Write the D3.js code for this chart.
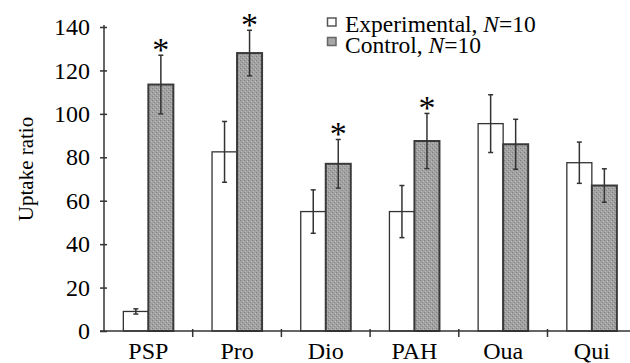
<!DOCTYPE html>
<html>
<head>
<meta charset="utf-8">
<script src="https://cdn.jsdelivr.net/npm/d3@7"></script>
<style>
  body { margin: 0; background: #fff; }
  text { font-family: "Liberation Serif", "DejaVu Serif", serif; fill: #000; }
</style>
</head>
<body>
<div id="display"></div>
<script>
const categories = ['PSP', 'Pro', 'Dio', 'PAH', 'Oua', 'Qui'];
const expMeans = [9, 82.5, 55, 55, 95.5, 77.5];
const expErr = [1.2, 14, 10, 12, 13.3, 9.5];
const ctrlMeans = [113.5, 128, 77, 87.5, 86, 67];
const ctrlErr = [13.5, 10.5, 11.2, 12.7, 11.5, 7.7];
const significant = [true, true, true, true, false, false];
const yTicks = [0, 20, 40, 60, 80, 100, 120, 140];

const width = 630;
const height = 363;
const axisX = 104;
const axisY = 331;

const svg = d3.select('#display').append('svg')
    .attr('width', width)
    .attr('height', height);

// speckled gray fill for control bars
const pat = svg.append('defs').append('pattern')
    .attr('id', 'speckle')
    .attr('width', 4).attr('height', 4)
    .attr('patternUnits', 'userSpaceOnUse');
pat.append('rect').attr('width', 4).attr('height', 4).attr('fill', '#a2a2a2');
pat.append('rect').attr('x', 0).attr('y', 0).attr('width', 1).attr('height', 1).attr('fill', '#7e7e7e');
pat.append('rect').attr('x', 2).attr('y', 2).attr('width', 1).attr('height', 1).attr('fill', '#888');
pat.append('rect').attr('x', 3).attr('y', 1).attr('width', 1).attr('height', 1).attr('fill', '#bcbcbc');
pat.append('rect').attr('x', 1).attr('y', 3).attr('width', 1).attr('height', 1).attr('fill', '#b5b5b5');

const x = d3.scaleBand().domain(categories).range([axisX, axisX + 6 * 88.7]);
const bw = x.bandwidth();
const y = d3.scaleLinear().domain([0, 140]).range([axisY, 27]);

const series = [
  {key: 'exp', means: expMeans, errs: expErr},
  {key: 'ctrl', means: ctrlMeans, errs: ctrlErr},
];
const xs = d3.scaleBand().domain(['exp', 'ctrl']).range([0, bw]).paddingOuter(0.773);

// bars
series.forEach((s) => {
  const g = svg.append('g');
  g.selectAll('rect')
      .data(categories)
      .enter()
      .append('rect')
      .attr('x', (d) => x(d) + xs(s.key))
      .attr('y', (d, i) => y(s.means[i]))
      .attr('width', xs.bandwidth())
      .attr('height', (d, i) => y(0) - y(s.means[i]))
      .attr('fill', s.key == 'exp' ? '#fff' : 'url(#speckle)')
      .attr('stroke', s.key == 'exp' ? '#333' : '#3a3a3a')
      .attr('stroke-width', s.key == 'exp' ? 1.3 : 2);

  // error bars
  const eb = svg.append('g').attr('stroke', '#333').attr('stroke-width', 1.5);
  categories.forEach((c, i) => {
    const cx = x(c) + xs(s.key) + xs.bandwidth() / 2;
    const lo = y(s.means[i] - s.errs[i]);
    const hi = y(s.means[i] + s.errs[i]);
    eb.append('line').attr('x1', cx).attr('x2', cx).attr('y1', lo).attr('y2', hi);
    eb.append('line').attr('x1', cx - 2.5).attr('x2', cx + 2.5).attr('y1', lo).attr('y2', lo);
    eb.append('line').attr('x1', cx - 2.5).attr('x2', cx + 2.5).attr('y1', hi).attr('y2', hi);
  });
});

// significance asterisks
svg.append('g').selectAll('text')
    .data(categories.filter((d, i) => significant[i]))
    .enter()
    .append('text')
    .attr('x', (d) => x(d) + xs('ctrl') + xs.bandwidth() / 2)
    .attr('y', (d) => {
      const i = categories.indexOf(d);
      return y(ctrlMeans[i] + ctrlErr[i]) + 6;
    })
    .attr('text-anchor', 'middle')
    .style('font-size', '34px')
    .text('*');

// y axis
const yAxis = svg.append('g')
    .attr('transform', 'translate(' + axisX + ',0)')
    .call(d3.axisLeft(y).tickValues(yTicks).tickSize(4).tickSizeOuter(0).tickPadding(10));
yAxis.select('.domain').attr('stroke', '#333').attr('stroke-width', 1.5)
    .attr('d', 'M0,' + axisY + 'V25');
yAxis.selectAll('.tick line').attr('x1', 3).attr('x2', -4)
    .attr('stroke', '#333').attr('stroke-width', 1.5);
yAxis.selectAll('.tick text').style('font-size', '24px')
    .style('font-family', '"Liberation Serif", serif').attr('fill', '#000');

// x axis
const xAxis = svg.append('g');
xAxis.append('line')
    .attr('x1', axisX - 4).attr('x2', width)
    .attr('y1', axisY).attr('y2', axisY)
    .attr('stroke', '#333').attr('stroke-width', 1.5);
xAxis.selectAll('.sep')
    .data(categories.slice(1))
    .enter()
    .append('line')
    .attr('x1', (d) => x(d)).attr('x2', (d) => x(d))
    .attr('y1', axisY - 2).attr('y2', axisY + 6)
    .attr('stroke', '#333').attr('stroke-width', 1.5);
xAxis.selectAll('text')
    .data(categories)
    .enter()
    .append('text')
    .attr('x', (d) => x(d) + bw / 2)
    .attr('y', 359)
    .attr('text-anchor', 'middle')
    .style('font-size', '24px')
    .text((d) => d);

// y label
svg.append('text')
    .attr('transform', 'translate(33,169) rotate(-90)')
    .attr('text-anchor', 'middle')
    .style('font-size', '21px')
    .text('Uptake ratio');

// legend
const legend = [
  {label: 'Experimental, ', fill: '#fff', stroke: '#555'},
  {label: 'Control, ', fill: '#a8a8a8', stroke: '#666'},
];
const lg = svg.append('g');
legend.forEach((d, i) => {
  lg.append('rect')
      .attr('x', 327.5).attr('y', 18 + i * 19.5)
      .attr('width', 8.5).attr('height', 8)
      .attr('fill', d.fill).attr('stroke', d.stroke).attr('stroke-width', 1.5);
  const t = lg.append('text')
      .attr('x', 345).attr('y', 32 + i * 20.7)
      .style('font-size', '23.5px');
  t.append('tspan').text(d.label);
  t.append('tspan').style('font-style', 'italic').text('N');
  t.append('tspan').text('=10');
});
</script>
</body>
</html>
